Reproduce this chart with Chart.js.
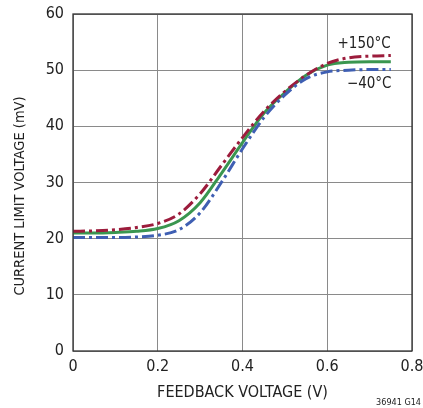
<!DOCTYPE html>
<html><head><meta charset="utf-8">
<script src="https://cdn.jsdelivr.net/npm/chart.js@4"></script>
<style>html,body{margin:0;padding:0;background:#fff}#wrap{width:423px;height:408px;position:relative}</style>
</head><body><div id="wrap"><canvas id="c" width="423" height="408"></canvas></div>
<script>
const xValues = [0, 0.05, 0.1, 0.15, 0.2, 0.25, 0.3, 0.35, 0.4, 0.45, 0.5, 0.55, 0.6, 0.65, 0.7, 0.75];
const hot150 = [21.3, 21.4, 21.6, 22.0, 22.7, 24.4, 28.0, 33.0, 38.0, 42.6, 46.2, 49.1, 51.2, 52.2, 52.5, 52.6];
const room25 = [21.0, 21.0, 21.1, 21.3, 21.8, 23.2, 26.4, 31.6, 37.1, 42.3, 46.0, 49.1, 50.9, 51.4, 51.5, 51.5];
const coldM40 = [20.2, 20.2, 20.2, 20.3, 20.6, 21.6, 24.6, 30.0, 36.0, 41.5, 45.6, 48.5, 49.7, 50.0, 50.1, 50.1];
const xTicks = [0, 0.2, 0.4, 0.6, 0.8];
const yTicks = [0, 10, 20, 30, 40, 50, 60];
const seriesLabels = ['+150°C', '−40°C'];
const xTitle = 'FEEDBACK VOLTAGE (V)';
const yTitle = 'CURRENT LIMIT VOLTAGE (mV)';

const FONT = "'Liberation Sans Narrow','DejaVu Sans Condensed','Liberation Sans',sans-serif";
const pts = arr => arr.map((v, i) => ({x: xValues[i], y: v}));
const DASH = [12, 4, 3, 4];

const annot = {
  id: 'annot',
  afterDraw(chart) {
    const {ctx, chartArea: a, scales: {x, y}} = chart;
    ctx.save();
    ctx.strokeStyle = '#333';
    ctx.lineWidth = 1.3;
    ctx.strokeRect(a.left, a.top, a.right - a.left, a.bottom - a.top);
    ctx.fillStyle = '#222';
    ctx.font = "15px " + FONT;
    ctx.textAlign = 'center';
    ctx.textBaseline = 'middle';
    ctx.fillText(seriesLabels[0], x.getPixelForValue(0.687), y.getPixelForValue(54.7));
    ctx.fillText(seriesLabels[1], x.getPixelForValue(0.699), y.getPixelForValue(47.5));
    ctx.font = "16px " + FONT;
    ctx.fillText(xTitle, (a.left + a.right) / 2, 393);
    ctx.save();
    ctx.translate(20, 196);
    ctx.rotate(-Math.PI / 2);
    ctx.font = "14.5px " + FONT;
    ctx.fillText(yTitle, 0, 0);
    ctx.restore();
    ctx.font = "9px " + FONT;
    ctx.textAlign = 'right';
    ctx.fillText('36941 G14', 421, 403);
    ctx.restore();
  }
};

const noPad = s => { s.paddingTop = 0; s.paddingBottom = 0; s.paddingLeft = 0; s.paddingRight = 0; };

new Chart(document.getElementById('c'), {
  type: 'scatter',
  data: {
    datasets: [
      {data: pts(coldM40), borderColor: '#3f5fb3', borderWidth: 3, borderDash: DASH, showLine: true, pointRadius: 0, cubicInterpolationMode: 'monotone'},
      {data: pts(hot150), borderColor: '#9c1c3c', borderWidth: 3, borderDash: DASH, showLine: true, pointRadius: 0, cubicInterpolationMode: 'monotone'},
      {data: pts(room25), borderColor: '#3a9650', borderWidth: 3, showLine: true, pointRadius: 0, cubicInterpolationMode: 'monotone'}
    ]
  },
  options: {
    responsive: false,
    animation: false,
    devicePixelRatio: 1,
    layout: {padding: {top: 14, right: 11, left: 0, bottom: 0}},
    plugins: {legend: {display: false}, tooltip: {enabled: false}},
    scales: {
      x: {
        type: 'linear', min: 0, max: 0.8,
        afterBuildTicks: s => { s.ticks = xTicks.map(v => ({value: v})); },
        afterFit: s => { s.height = 57; noPad(s); },
        grid: {color: '#8a8a8a', lineWidth: 1, drawTicks: false},
        border: {display: false},
        ticks: {color: '#222', font: {family: FONT, size: 16}, padding: 6, maxRotation: 0,
          callback: v => (v === 0 ? '0' : String(v))}
      },
      y: {
        type: 'linear', min: 0, max: 60,
        afterBuildTicks: s => { s.ticks = yTicks.map(v => ({value: v})); },
        afterFit: s => { s.width = 73; noPad(s); },
        grid: {color: '#8a8a8a', lineWidth: 1, drawTicks: false},
        border: {display: false},
        ticks: {color: '#222', font: {family: FONT, size: 16}, padding: 9}
      }
    }
  },
  plugins: [annot]
});
</script></body></html>
